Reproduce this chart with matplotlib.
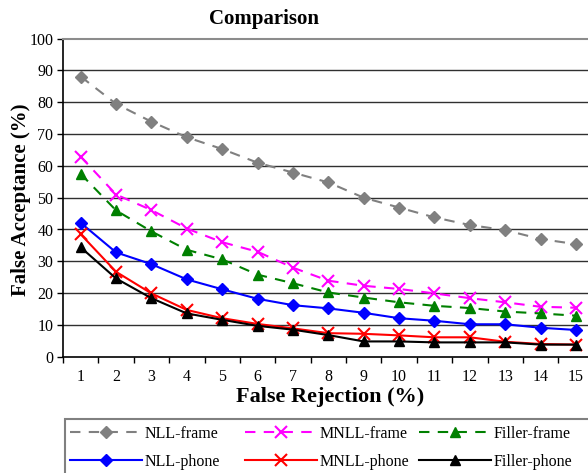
import matplotlib
matplotlib.use("Agg")
import matplotlib.pyplot as plt
from matplotlib.patches import Rectangle
from matplotlib.ticker import FixedLocator, NullFormatter

plt.rcParams['font.family'] = ['Liberation Serif', 'DejaVu Serif']

x = list(range(1, 16))
nll_frame = [88.1, 79.5, 73.9, 69.0, 65.3, 61.0, 57.9, 54.8, 50.0, 46.9, 43.8, 41.4, 39.8, 37.0, 35.4]
mnll_frame = [62.9, 51.0, 46.1, 40.3, 36.0, 33.0, 28.0, 23.9, 22.3, 21.3, 19.9, 18.4, 17.1, 15.7, 15.4]
filler_frame = [57.5, 46.0, 39.4, 33.6, 30.6, 25.8, 23.1, 20.2, 18.6, 17.1, 16.0, 15.3, 14.2, 13.6, 12.9]
nll_phone = [42.1, 32.8, 29.1, 24.3, 21.2, 18.2, 16.2, 15.2, 13.8, 12.1, 11.3, 10.2, 10.2, 9.1, 8.4]
mnll_phone = [38.5, 26.7, 19.9, 14.7, 12.1, 10.3, 8.9, 7.4, 7.2, 6.7, 6.1, 6.1, 4.7, 4.0, 3.8]
filler_phone = [34.4, 24.6, 18.4, 13.6, 11.6, 9.7, 8.5, 6.8, 4.8, 4.8, 4.5, 4.5, 4.5, 3.8, 3.8]

W, H = 588, 473
fig = plt.figure(figsize=(W / 100, H / 100), dpi=100)
ax = fig.add_axes([63 / W, 1 - 356.7 / H, (593.7 - 63) / W, (356.7 - 38.7) / H])

dash = (0, (5, 4))
l1, = ax.plot(x, nll_frame, color='#808080', ls=dash, lw=1.5, marker='D', ms=6, label='NLL-frame', zorder=3)
l2, = ax.plot(x, mnll_frame, color='#ff00ff', ls=dash, lw=1.5, marker='x', ms=8, mew=1.5, label='MNLL-frame', zorder=3)
l3, = ax.plot(x, filler_frame, color='#008000', ls=dash, lw=1.5, marker='^', ms=7.5, label='Filler-frame', zorder=3)
l4, = ax.plot(x, nll_phone, color='#0000ff', ls='-', lw=1.5, marker='D', ms=6, label='NLL-phone', zorder=3)
l5, = ax.plot(x, mnll_phone, color='#ff0000', ls='-', lw=1.5, marker='x', ms=8, mew=1.5, label='MNLL-phone', zorder=3)
l6, = ax.plot(x, filler_phone, color='#000000', ls='-', lw=1.5, marker='^', ms=7.5, label='Filler-phone', zorder=3)

ax.set_xlim(0.5, 15.5)
ax.set_ylim(0, 100)
ax.set_yticks(range(0, 101, 10))
ax.set_xticks(x)
ax.xaxis.set_minor_locator(FixedLocator([i + 0.5 for i in range(0, 15)]))
ax.xaxis.set_minor_formatter(NullFormatter())
ax.tick_params(axis='x', which='major', length=0, labelsize=11.5, pad=9)
ax.tick_params(axis='x', which='minor', length=4, width=1, direction='out', color='black')
ax.tick_params(axis='y', which='major', length=4, width=1, direction='out', labelsize=11.5, pad=3)

for yv in range(10, 100, 10):
    ax.axhline(yv, color='#303030', lw=1, zorder=1)
ax.spines['top'].set_color('#8c8c8c')
ax.spines['top'].set_linewidth(1.5)
ax.spines['right'].set_visible(False)
ax.spines['left'].set_linewidth(1.2)
ax.spines['bottom'].set_linewidth(1.2)

fig.text(264 / W, 1 - 19 / H, 'Comparison', ha='center', va='center', fontsize=15, fontweight='bold')
fig.text(330 / W, 1 - 397 / H, 'False Rejection (%)', ha='center', va='center', fontsize=16, fontweight='bold')
fig.text(21 / W, 1 - 200 / H, 'False Acceptance (%)', ha='center', va='center', fontsize=15,
         fontweight='bold', rotation=90)

# legend frame (extends past the right/bottom edges like the reference)
fig.add_artist(Rectangle((65 / W, -0.1), 1.0, (1 - 419 / H) + 0.1, transform=fig.transFigure,
                         fill=False, edgecolor='#808080', lw=1.5))

columns = [([l1, l4], 70), ([l2, l5], 245), ([l3, l6], 419)]
for hs, xpix in columns:
    fig.legend(hs, [h.get_label() for h in hs], loc='upper left',
               bbox_to_anchor=(xpix / W, 1 - 426 / H), borderaxespad=0, borderpad=0,
               frameon=False, fontsize=11.5, handlelength=4.5, handletextpad=0.2,
               labelspacing=0.75, numpoints=1)

fig.savefig('out.png', dpi=100)
